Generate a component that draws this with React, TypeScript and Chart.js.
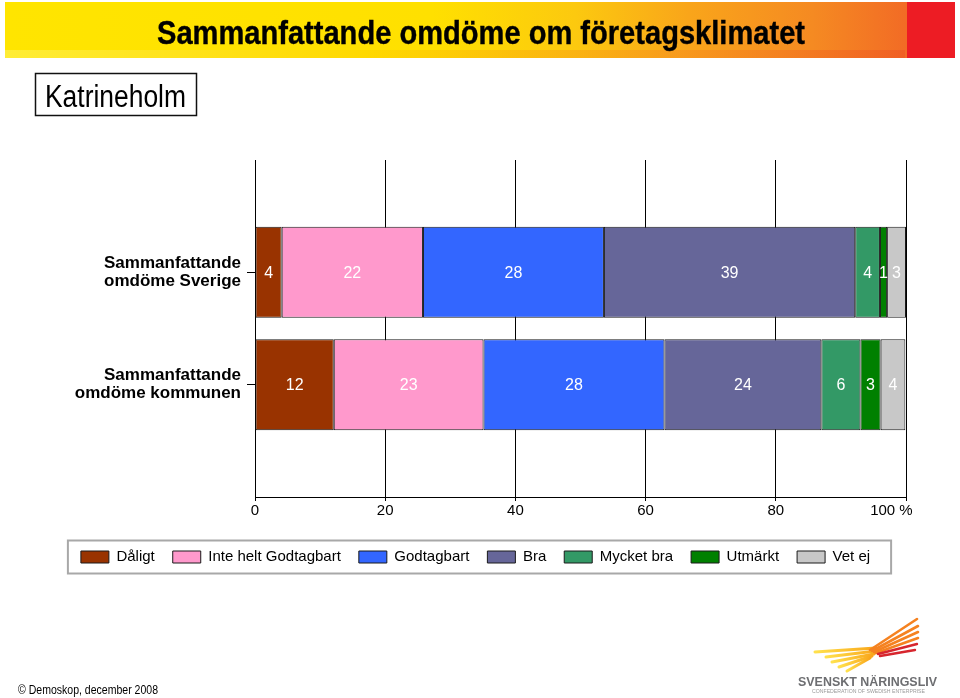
import React, { useEffect, useRef } from 'react';
import { Chart, registerables } from 'chart.js';

Chart.register(...registerables);

// ---- data ----
const categories: (string | string[])[] = [
  '',
  ['Sammanfattande', 'omdöme Sverige'],
  ['Sammanfattande', 'omdöme kommunen'],
  '',
];
const seriesNames = ['Dåligt', 'Inte helt Godtagbart', 'Godtagbart', 'Bra', 'Mycket bra', 'Utmärkt', 'Vet ej'];
const seriesColors = ['#993300', '#FF99CC', '#3366FF', '#666699', '#339966', '#008000', '#C8C8C8'];
const sverigeValues = [4.1, 21.7, 27.8, 38.6, 3.8, 1.1, 2.9];
const kommunenValues = [12.1, 23.0, 27.8, 24.1, 6.0, 3.1, 3.8];
const sverigeLabels = ['4', '22', '28', '39', '4', '1', '3'];
const kommunenLabels = ['12', '23', '28', '24', '6', '3', '4'];
const xTickValues = [0, 20, 40, 60, 80, 100];
const xTickLabels = ['0', '20', '40', '60', '80', '100 %       '];

const rowValues = [null, sverigeValues, kommunenValues, null];
const rowLabels = [null, sverigeLabels, kommunenLabels, null];

const FONT = "'Liberation Sans', Arial, Helvetica, sans-serif";

const valueLabelPlugin = {
  id: 'valueLabels',
  afterDatasetsDraw(chart: any) {
    const ctx = chart.ctx;
    ctx.save();
    ctx.font = `16px ${FONT}`;
    ctx.fillStyle = '#ffffff';
    ctx.textAlign = 'center';
    ctx.textBaseline = 'middle';
    chart.data.datasets.forEach((_ds: any, i: number) => {
      const meta = chart.getDatasetMeta(i);
      meta.data.forEach((el: any, j: number) => {
        const labels = rowLabels[j];
        if (!labels) return;
        const p = el.getProps(['x', 'y', 'base'], true);
        ctx.fillText(labels[i], (p.x + p.base) / 2, p.y + 1);
      });
    });
    ctx.restore();
  },
};

const legendBorderPlugin = {
  id: 'legendBorder',
  afterDraw(chart: any) {
    const lg = chart.legend;
    if (!lg || !lg.legendHitBoxes || !lg.legendHitBoxes.length) return;
    const hb = lg.legendHitBoxes;
    let l = Infinity, r = -Infinity;
    hb.forEach((h: any) => {
      l = Math.min(l, h.left);
      r = Math.max(r, h.left + h.width);
    });
    const cy = hb[0].top + hb[0].height / 2;
    const ctx = chart.ctx;
    ctx.save();
    ctx.strokeStyle = '#a8a8a8';
    ctx.lineWidth = 2;
    ctx.strokeRect(l - 13, cy - 16.5, r - l + 34, 33);
    ctx.restore();
  },
};

function Overlay() {
  const yellow = ['M815,652 L876,648', 'M826,657 L876,651', 'M832,662 L874,654', 'M839,667 L872,656', 'M847,671 L870,658'];
  const orange = ['M870,650 L917,619', 'M872,651 L918,626', 'M874,652 L918,632', 'M876,653 L918,638'];
  const red = ['M878,654 L917,644', 'M880,656 L915,650'];
  return (
    <svg width={960} height={698} style={{ position: 'absolute', left: 0, top: 0, pointerEvents: 'none' }}>
      <defs>
        <linearGradient id="wingY" x1="0" x2="1" y1="0" y2="0">
          <stop offset="0" stopColor="#FFE14D" />
          <stop offset="1" stopColor="#F9A51A" />
        </linearGradient>
      </defs>
      {/* title */}
      <text x={481} y={44} textAnchor="middle" fontFamily={FONT} fontWeight="bold" fontSize={33} fill="#000"
        stroke="#000" strokeWidth={0.4} textLength={648} lengthAdjust="spacingAndGlyphs">
        Sammanfattande omdöme om företagsklimatet
      </text>
      {/* Katrineholm box */}
      <rect x={35.5} y={73.5} width={161} height={42} fill="none" stroke="#111" strokeWidth={1.5} />
      <text x={45} y={107} fontFamily={FONT} fontSize={31} fill="#000" textLength={141} lengthAdjust="spacingAndGlyphs">
        Katrineholm
      </text>
      {/* footer */}
      <text x={18} y={694} fontFamily={FONT} fontSize={13} fill="#000" textLength={140} lengthAdjust="spacingAndGlyphs">
        © Demoskop, december 2008
      </text>
      {/* logo */}
      {yellow.map((d, i) => (
        <path key={'y' + i} d={d} stroke="url(#wingY)" strokeWidth={3} strokeLinecap="round" fill="none" />
      ))}
      {orange.map((d, i) => (
        <path key={'o' + i} d={d} stroke="#F58220" strokeWidth={2.6} strokeLinecap="round" fill="none" />
      ))}
      {red.map((d, i) => (
        <path key={'r' + i} d={d} stroke="#D7262E" strokeWidth={2.4} strokeLinecap="round" fill="none" />
      ))}
      <text x={798} y={686} fontFamily={FONT} fontWeight="bold" fontSize={13} fill="#6D6E71"
        textLength={139} lengthAdjust="spacingAndGlyphs">
        SVENSKT NÄRINGSLIV
      </text>
      <text x={812} y={693} fontFamily={FONT} fontSize={4.5} fill="#999" textLength={113} lengthAdjust="spacingAndGlyphs">
        CONFEDERATION OF SWEDISH ENTERPRISE
      </text>
    </svg>
  );
}

export default function App() {
  const canvasRef = useRef<HTMLCanvasElement | null>(null);

  useEffect(() => {
    if (!canvasRef.current) return;
    const datasets = seriesNames.map((name, i) => ({
      label: name,
      data: rowValues.map((row) => (row ? row[i] : null)),
      backgroundColor: seriesColors[i],
      borderColor: '#1a1a1a',
      borderWidth: 1,
      borderSkipped: false,
      barPercentage: 1,
      categoryPercentage: 0.81,
    }));

    const chart = new Chart(canvasRef.current, {
      type: 'bar',
      data: { labels: categories as any, datasets: datasets as any },
      plugins: [valueLabelPlugin, legendBorderPlugin],
      options: {
        indexAxis: 'y',
        animation: false,
        responsive: false,
        devicePixelRatio: 1,
        layout: { padding: { top: 160, left: 0, right: 9, bottom: 123.5 } },
        plugins: {
          tooltip: { enabled: false },
          title: { display: false },
          legend: {
            display: true,
            position: 'bottom',
            labels: {
              boxWidth: 28,
              boxHeight: 12,
              padding: 18,
              color: '#000',
              font: { family: FONT, size: 15 },
            },
          },
        },
        scales: {
          x: {
            type: 'linear',
            stacked: true,
            min: 0,
            max: 100,
            afterBuildTicks: (s: any) => {
              s.ticks = xTickValues.map((v) => ({ value: v }));
            },
            ticks: {
              color: '#000',
              font: { family: FONT, size: 15 },
              padding: 1,
              maxRotation: 0,
              callback: (v: any) => {
                const idx = xTickValues.indexOf(Number(v));
                return idx >= 0 ? xTickLabels[idx] : '';
              },
            },
            grid: { color: '#000', lineWidth: 1, tickLength: 4, drawTicks: true },
            border: { display: true, color: '#000', width: 1 },
            afterFit: (s: any) => {
              s.height = 34.5;
              s.paddingRight = 54;
            },
          },
          y: {
            type: 'category',
            stacked: true,
            offset: false,
            ticks: {
              color: '#000',
              autoSkip: false,
              padding: 6,
              font: { family: FONT, size: 17, weight: 'bold', lineHeight: '18px' },
            },
            grid: {
              display: true,
              offset: false,
              drawOnChartArea: false,
              tickLength: 8,
              tickColor: (ctx: any) => (categories[ctx.index] === '' ? 'rgba(0,0,0,0)' : '#000'),
            },
            border: { display: true, color: '#000', width: 1 },
            afterFit: (s: any) => {
              s.width = 255;
            },
          },
        },
      } as any,
    });
    return () => chart.destroy();
  }, []);

  return (
    <div style={{ position: 'absolute', left: 0, top: 0, width: 960, height: 698, background: '#fff', overflow: 'hidden' }}>
      <div
        style={{
          position: 'absolute',
          left: 5,
          top: 2,
          width: 950,
          height: 56,
          background:
            'linear-gradient(90deg, #FFE500 0%, #FFE000 45%, #FCC90F 60%, #F9A51A 72%, #F58A22 85%, #F26B25 95%)',
        }}
      />
      <div style={{ position: 'absolute', left: 5, top: 50, width: 900, height: 8, background: 'linear-gradient(90deg, #FFF04D 0%, #FFD500 40%, #F7941D 75%, #EF5A24 100%)', opacity: 0.7 }} />
      <div style={{ position: 'absolute', left: 907, top: 2, width: 48, height: 56, background: '#ED1C24' }} />
      <canvas ref={canvasRef} width={960} height={698} style={{ position: 'absolute', left: 0, top: 0, display: 'block' }} />
      <Overlay />
    </div>
  );
}
